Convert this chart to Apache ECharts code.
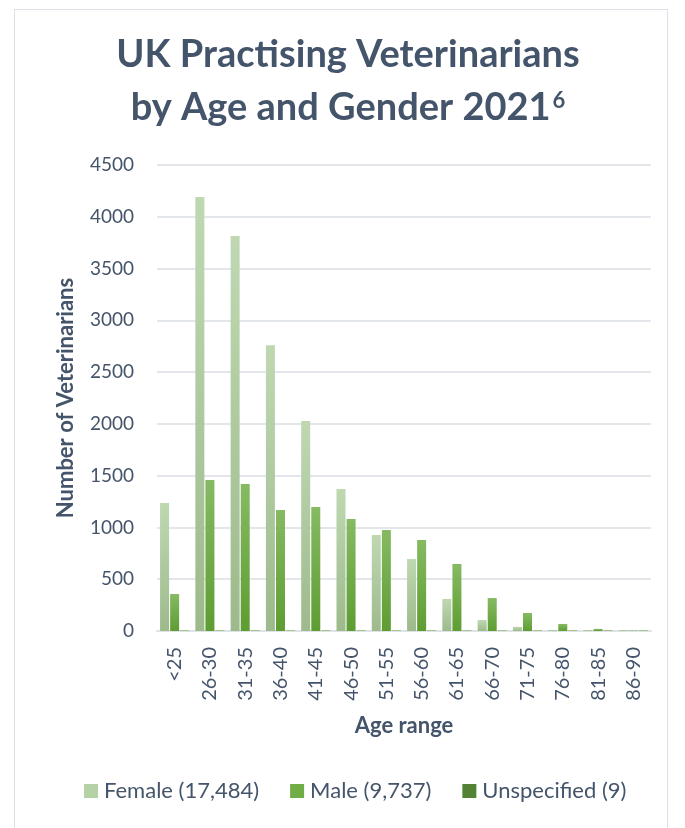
<!DOCTYPE html>
<html><head><meta charset="utf-8">
<script src="https://cdn.jsdelivr.net/npm/echarts@6/dist/echarts.min.js"></script>
<style>
html,body{margin:0;padding:0;background:#fff;}
#frame{position:absolute;left:14px;top:9px;width:654px;height:830px;border:1.5px solid #dde2e8;box-sizing:border-box;}
#chart{position:absolute;left:0;top:0;width:685px;height:828px;}
</style></head>
<body>
<div id="frame"></div>
<div id="chart"></div>
<script>
const categories = ['<25','26-30','31-35','36-40','41-45','46-50','51-55','56-60','61-65','66-70','71-75','76-80','81-85','86-90'];
const femaleValues = [1236,4190,3815,2760,2027,1372,928,695,310,106,40,4,5,5];
const maleValues = [357,1458,1420,1168,1197,1081,975,878,647,318,174,68,20,5];
const unspecifiedValues = [2,3,2,2,0,0,0,0,0,0,0,0,0,0];
const legendNames = ['Female (17,484)','Male (9,737)','Unspecified (9)'];
const yTicks = {min:0, max:4500, interval:500};

const FONT = 'Lato, "Open Sans", sans-serif';
const TXT = '#44546a';
const chart = echarts.init(document.getElementById('chart'), null, {renderer:'canvas'});
function grad(top, bottom){
  return new echarts.graphic.LinearGradient(0,0,0,1,[{offset:0,color:top},{offset:1,color:bottom}]);
}
chart.setOption({
  animation:false,
  backgroundColor:'transparent',
  graphic:[{
    type:'text', x:348, y:28,
    style:{
      text:'{t|UK Practising Veterinarians}\n{t|by Age and Gender 2021}{s|6}',
      align:'center', verticalAlign:'top',
      rich:{
        t:{fontFamily:FONT,fontWeight:'bold',fontSize:38,fill:TXT,lineHeight:53},
        s:{fontFamily:FONT,fontWeight:'bold',fontSize:22,fill:TXT,lineHeight:22,verticalAlign:'top',padding:[9,0,0,2]}
      }
    }
  }],
  legend:{
    bottom:21, left:79,
    itemWidth:14, itemHeight:14, itemGap:31,
    icon:'rect',
    textStyle:{fontFamily:FONT,fontSize:22,color:TXT,padding:[0,0,0,1]},
    data:[
      {name:legendNames[0],itemStyle:{color:'#b5d1a6'}},
      {name:legendNames[1],itemStyle:{color:'#70ad47'}},
      {name:legendNames[2],itemStyle:{color:'#548235'}}
    ]
  },
  grid:{left:157,right:34,top:165,bottom:197,containLabel:false},
  xAxis:{
    type:'category', data:categories,
    name:'Age range', nameLocation:'middle', nameGap:84,
    nameTextStyle:{fontFamily:FONT,fontWeight:'bold',fontSize:22,color:TXT},
    axisLine:{lineStyle:{color:'#dfe3e8',width:2}},
    axisTick:{show:false},
    axisLabel:{rotate:90,fontFamily:FONT,fontSize:20,color:TXT,margin:16,interval:0}
  },
  yAxis:{
    type:'value', min:yTicks.min, max:yTicks.max, interval:yTicks.interval,
    name:'Number of Veterinarians', nameLocation:'middle', nameGap:80, nameRotate:90,
    nameTextStyle:{fontFamily:FONT,fontWeight:'bold',fontSize:22,color:TXT},
    axisLine:{show:false}, axisTick:{show:false},
    axisLabel:{fontFamily:FONT,fontSize:19,color:TXT,margin:23,formatter:function(v){return String(v);}},
    splitLine:{lineStyle:{color:'#e3e6eb',width:2}}
  },
  series:[
    {name:legendNames[0],type:'bar',data:femaleValues,barWidth:9,barGap:'12%',barCategoryGap:'17%',barMinHeight:1,
     itemStyle:{color:grad('#bfd8b2','#9dba8c')}},
    {name:legendNames[1],type:'bar',data:maleValues,barWidth:9,barGap:'12%',
     itemStyle:{color:grad('#86ba63','#5e9d32')}},
    {name:legendNames[2],type:'bar',data:unspecifiedValues,barWidth:9,barGap:'12%',barMinHeight:1,
     itemStyle:{color:grad('#a3c48f','#a3c48f')}}
  ]
});
</script>
</body></html>
